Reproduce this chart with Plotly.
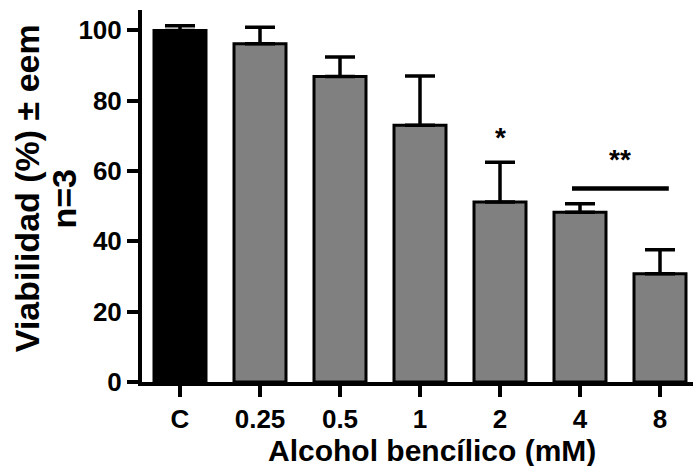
import plotly.graph_objects as go

categories = ["C", "0.25", "0.5", "1", "2", "4", "8"]
viability = [100, 96.2, 86.9, 73.0, 51.2, 48.3, 30.8]
sem_upper = [1.3, 4.7, 5.5, 14.0, 11.3, 2.4, 6.8]
bar_colors = ["#000000", "#808080", "#808080", "#808080", "#808080", "#808080", "#808080"]

y_ticks = [0, 20, 40, 60, 80, 100]

# significance marks: (label, x category index, y value)
sig_single = ("*", 4, 69.5)
sig_double = ("**", 5.5, 63.3)
sig_line = (4.9, 6.11, 55)

FONT = "Liberation Sans, Arial, sans-serif"

fig = go.Figure()
fig.add_trace(go.Bar(
    x=list(range(len(categories))),
    y=viability,
    width=0.65,
    marker=dict(color=bar_colors, line=dict(color="#000000", width=3)),
    error_y=dict(type="data", symmetric=False, array=sem_upper,
                 arrayminus=[0] * len(sem_upper),
                 color="#000000", thickness=3.5, width=15),
    showlegend=False,
))

fig.add_shape(type="line", xref="x", yref="y",
              x0=sig_line[0], x1=sig_line[1], y0=sig_line[2], y1=sig_line[2],
              line=dict(color="#000000", width=4.5))

for lab, xv, yv in (sig_single, sig_double):
    fig.add_annotation(x=xv, y=yv, xref="x", yref="y", text=lab, showarrow=False,
                       font=dict(family=FONT, size=28, color="#000000", weight="bold"))

fig.add_annotation(text="Alcohol bencílico (mM)", xref="paper", yref="paper",
                   x=0.5, y=0, xanchor="center", yanchor="middle",
                   xshift=14, yshift=-68, showarrow=False,
                   font=dict(family=FONT, size=30, color="#000000", weight="bold"))
fig.add_annotation(text="Viabilidad (%) ± eem", xref="paper", yref="paper",
                   x=0, y=0.52, xanchor="center", yanchor="middle",
                   xshift=-115.4, textangle=-90, showarrow=False,
                   font=dict(family=FONT, size=34, color="#000000", weight="bold"))
fig.add_annotation(text="n=3", xref="paper", yref="paper",
                   x=0, y=0.492, xanchor="center", yanchor="middle",
                   xshift=-78.4, textangle=-90, showarrow=False,
                   font=dict(family=FONT, size=34, color="#000000", weight="bold"))

fig.update_layout(
    width=695, height=466,
    margin=dict(l=142, r=2, t=10, b=84),
    paper_bgcolor="#ffffff", plot_bgcolor="#ffffff",
    font=dict(family=FONT, color="#000000"),
    xaxis=dict(
        range=[-0.475, 6.4125],
        tickmode="array", tickvals=list(range(len(categories))), ticktext=categories,
        showline=True, linecolor="#000000", linewidth=4,
        ticks="outside", ticklen=11, tickwidth=4, tickcolor="#000000",
        showgrid=False, zeroline=False,
        tickfont=dict(family=FONT, size=26, color="#000000", weight="bold"),
    ),
    yaxis=dict(
        range=[0, 105.8],
        tickmode="array", tickvals=y_ticks,
        showline=True, linecolor="#000000", linewidth=4,
        ticks="outside", ticklen=11, tickwidth=4, tickcolor="#000000",
        showgrid=False, zeroline=False,
        tickfont=dict(family=FONT, size=26, color="#000000", weight="bold"),
    ),
)

fig.write_html("out.html")
